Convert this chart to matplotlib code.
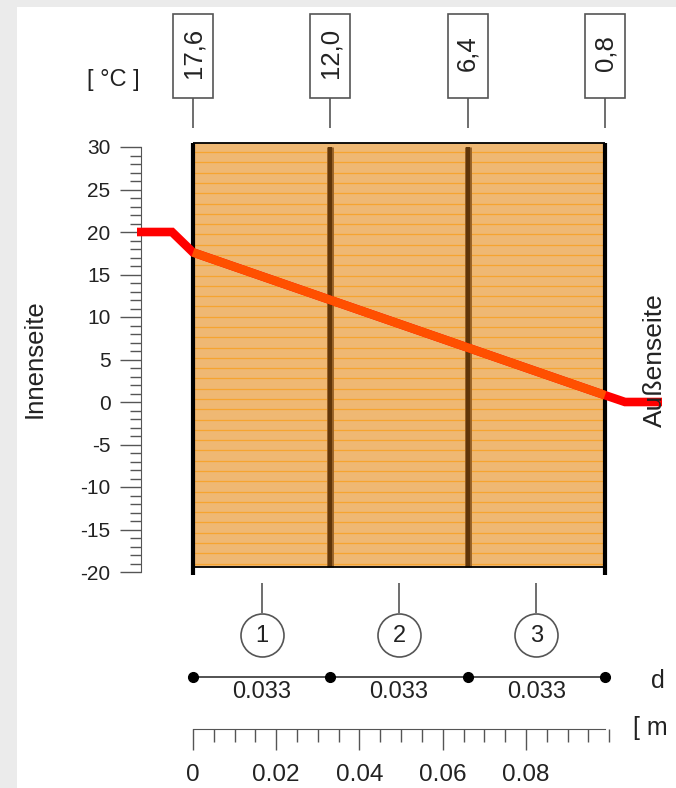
import matplotlib
matplotlib.use("Agg")
import matplotlib.pyplot as plt
import numpy as np
from matplotlib.patches import Rectangle
from matplotlib.ticker import FixedLocator, MultipleLocator

plt.rcParams["font.family"] = ["Liberation Sans", "DejaVu Sans"]
plt.rcParams["axes.unicode_minus"] = False

# data
layer_names = ["1", "2", "3"]
thickness = [0.033, 0.033, 0.033]          # m
t_interface = [17.6, 12.0, 6.4, 0.8]       # degC at the layer boundaries
t_inside = 20.0
t_outside = 0.0
temp_ticks = list(range(-20, 31, 5))
ruler_ticks = [0, 0.02, 0.04, 0.06, 0.08]
ruler_labels = ["0", "0.02", "0.04", "0.06", "0.08"]

W, H = 676, 788
fig = plt.figure(figsize=(W / 100, H / 100), dpi=100)
fig.patch.set_facecolor("white")

GRAY = "#555555"
TXT = "#222222"


def rect(l, t, r, b):
    # pixel box -> figure fraction
    return [l / W, 1 - b / H, (r - l) / W, (b - t) / H]


edges = np.concatenate([[0], np.cumsum(thickness)])
total = edges[-1]
ppm = (605 - 193) / total  # pixels per metre
xlim = ((141 - 193) / ppm, (660 - 193) / ppm)

# grey frame of the screenshot
fig.add_artist(Rectangle((0, 0), 17 / W, 1, transform=fig.transFigure,
                         fc="#ebebeb", ec="none", zorder=-10))
fig.add_artist(Rectangle((0, 1 - 7 / H), 1, 7 / H, transform=fig.transFigure,
                         fc="#ebebeb", ec="none", zorder=-10))

# --- main temperature axes
ax = fig.add_axes(rect(141, 147, 660, 572))
ax.set_xlim(xlim)
ax.set_ylim(-20, 30)
ax.patch.set_alpha(0)
for s in ["top", "right", "bottom"]:
    ax.spines[s].set_visible(False)
ax.spines["left"].set_color(GRAY)
ax.spines["left"].set_bounds(-20, 30)
ax.set_xticks([])
ax.set_yticks(temp_ticks)
ax.yaxis.set_minor_locator(MultipleLocator(1))
ax.tick_params(axis="y", which="major", length=15, width=1, color=GRAY,
               pad=7, labelsize=15, labelcolor=TXT)
ax.tick_params(axis="y", which="minor", length=8, width=1, color=GRAY)

y_top = 30 + 4 / 8.5
y_bot = -20 + 5 / 8.5
for i in range(len(thickness)):
    ax.add_patch(Rectangle((edges[i], y_bot), thickness[i], y_top - y_bot,
                           fc="#efb873", ec="none", zorder=1, clip_on=False))
ax.hlines(np.arange(-19.0, y_top, 1.21), 0, total, color="#f6a430", lw=0.9,
          zorder=2, clip_on=False)
ax.hlines(y_top, 0, total, color="black", lw=1.3, zorder=4, clip_on=False)
ax.hlines(y_bot, 0, total, color="black", lw=1.3, zorder=4, clip_on=False)
ax.vlines(edges[1:-1], y_bot, 30, color="#9a6428", lw=5, zorder=3)
ax.vlines(edges[1:-1], y_bot, 30, color="#603508", lw=3, zorder=3)
ax.vlines([edges[0], edges[-1]], -20 - 3 / 8.5, y_top, color="black", lw=3,
          zorder=4, clip_on=False)

xs = [-56 / ppm, -21 / ppm] + list(edges) + [total + 20 / ppm, total + 57 / ppm]
ys = [t_inside, t_inside] + t_interface + [t_outside, t_outside]
ax.plot(xs, ys, color="#ff0000", lw=6.2, zorder=5, clip_on=False,
        solid_capstyle="butt", solid_joinstyle="miter")
ax.plot(edges, t_interface, color="#ff5000", lw=6.2, zorder=6,
        solid_capstyle="butt")

# --- boxed interface temperatures above
axt = fig.add_axes(rect(141, 0, 660, 147))
axt.set_xlim(xlim)
axt.set_ylim(147, 0)
axt.axis("off")
bw = 40 / ppm
for x, t in zip(edges, t_interface):
    axt.add_patch(Rectangle((x - bw / 2, 14), bw, 84, fc="white", ec=GRAY,
                            lw=1.2, clip_on=False))
    axt.text(x, 53, f"{t:.1f}".replace(".", ","), rotation=90, ha="center",
             va="center", fontsize=18.5, color=TXT, clip_on=False)
axt.vlines(edges, 98, 128, color=GRAY, lw=1.2)

# --- layer numbers and dimension line below
axd = fig.add_axes(rect(141, 572, 660, 705))
axd.set_xlim(xlim)
axd.set_ylim(705, 572)
axd.axis("off")
centers = (edges[:-1] + edges[1:]) / 2
axd.vlines(centers, 583, 613, color=GRAY, lw=1.2)
axd.scatter(centers, [635] * len(centers), s=(43 * 0.72) ** 2, fc="white",
            ec=GRAY, lw=1.2, zorder=3)
for c, n in zip(centers, layer_names):
    axd.text(c, 636, n, ha="center", va="center", fontsize=17, color=TXT,
             zorder=4)
axd.plot(edges, [677] * len(edges), "-o", color="#444444", lw=1.3, ms=7,
         mfc="black", mec="black")
for c, t in zip(centers, thickness):
    axd.text(c, 692, f"{t:.3f}", ha="center", va="center", fontsize=17,
             color=TXT)

# --- metre ruler at the bottom
axr = fig.add_axes(rect(141, 700, 660, 729))
axr.set_xlim(xlim)
axr.patch.set_alpha(0)
for s in ["top", "right", "left"]:
    axr.spines[s].set_visible(False)
axr.spines["bottom"].set_color(GRAY)
axr.spines["bottom"].set_bounds(0, total)
axr.set_yticks([])
axr.set_xticks(ruler_ticks)
axr.set_xticklabels(ruler_labels)
axr.xaxis.set_minor_locator(FixedLocator(
    [v for v in np.arange(0.005, 0.1001, 0.005)
     if min(abs(v - r) for r in ruler_ticks) > 1e-6]))
axr.tick_params(axis="x", which="major", length=15, width=1, color=GRAY,
                pad=10, labelsize=17.5, labelcolor=TXT)
axr.tick_params(axis="x", which="minor", length=9, width=1, color=GRAY)

# --- free labels
fig.text(113 / W, 1 - 80 / H, "[ °C ]", ha="center", va="center",
         fontsize=17, color=TXT)
fig.text(35 / W, 1 - 359 / H, "Innenseite", rotation=90, ha="center",
         va="center", fontsize=18.5, color=TXT)
fig.text(655 / W, 1 - 360 / H, "Außenseite", rotation=90, ha="center",
         va="center", fontsize=19, color=TXT, zorder=10)
fig.text(658 / W, 1 - 681 / H, "d", ha="center", va="center", fontsize=18,
         color=TXT)
fig.text(633 / W, 1 - 728 / H, "[ m", ha="left", va="center", fontsize=18,
         color=TXT)

fig.savefig("out.png", dpi=100)
